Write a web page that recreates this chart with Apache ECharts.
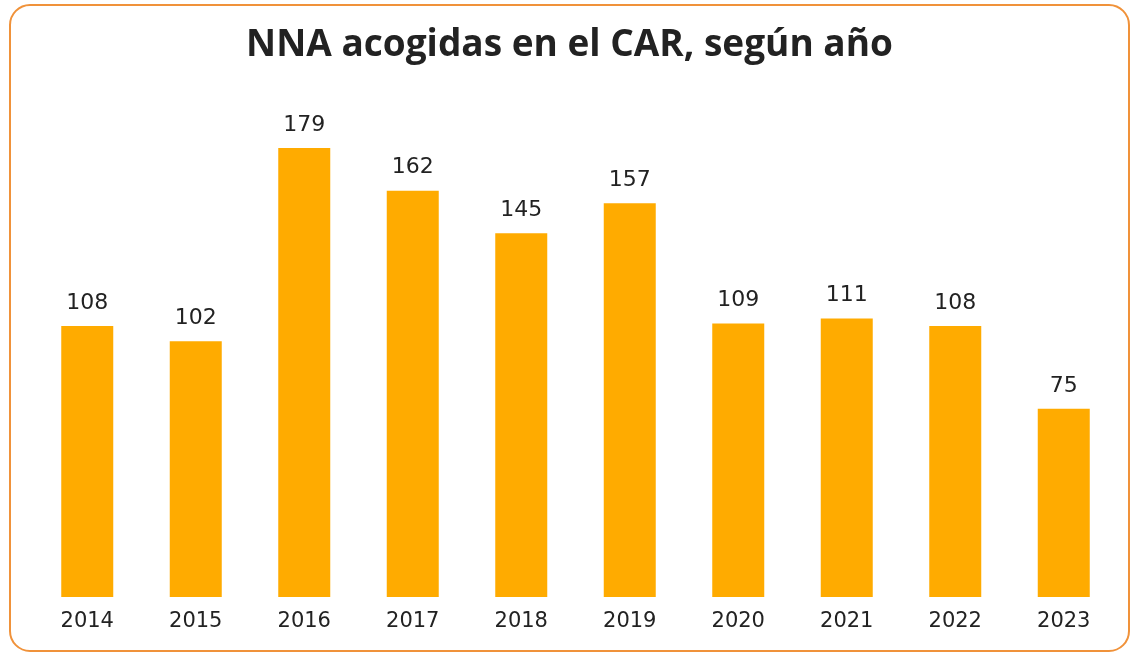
<!DOCTYPE html>
<html>
<head>
<meta charset="utf-8">
<script src="https://cdn.jsdelivr.net/npm/echarts@6/dist/echarts.min.js"></script>
<style>
html, body { margin: 0; padding: 0; background: #fff; }
#chart { width: 1139px; height: 656px; }
</style>
</head>
<body>
<div id="chart"></div>
<script>
var years = ['2014', '2015', '2016', '2017', '2018', '2019', '2020', '2021', '2022', '2023'];
var acogidas = [108, 102, 179, 162, 145, 157, 109, 111, 108, 75];

var chart = echarts.init(document.getElementById('chart'));
var option = {
	animation: false,
	title: {
		text: 'NNA acogidas en el CAR, según año',
		left: 'center',
		top: 22,
		textStyle: {
			fontFamily: 'Open Sans',
			fontWeight: 'bold',
			fontSize: 37,
			color: '#222'
		}
	},
	graphic: [{
		type: 'rect',
		shape: { x: 10, y: 5, width: 1119, height: 646, r: 20 },
		style: { fill: 'none', stroke: '#F0923A', lineWidth: 2 },
		silent: true
	}],
	grid: { left: 33, right: 21, top: 148, bottom: 59 },
	xAxis: {
		type: 'category',
		data: years,
		axisLine: { show: false },
		axisTick: { show: false },
		axisLabel: {
			margin: 14,
			fontFamily: 'DejaVu Sans',
			fontSize: 21,
			color: '#222'
		}
	},
	yAxis: {
		type: 'value',
		min: 0,
		max: 179,
		show: false,
		splitLine: { show: false }
	},
	series: [{
		type: 'bar',
		data: acogidas,
		barWidth: 52,
		itemStyle: { color: '#FFAB00' },
		label: {
			show: true,
			position: 'top',
			distance: 12,
			fontFamily: 'DejaVu Sans',
			fontSize: 22,
			color: '#222'
		}
	}]
};
chart.setOption(option);
</script>
</body>
</html>
